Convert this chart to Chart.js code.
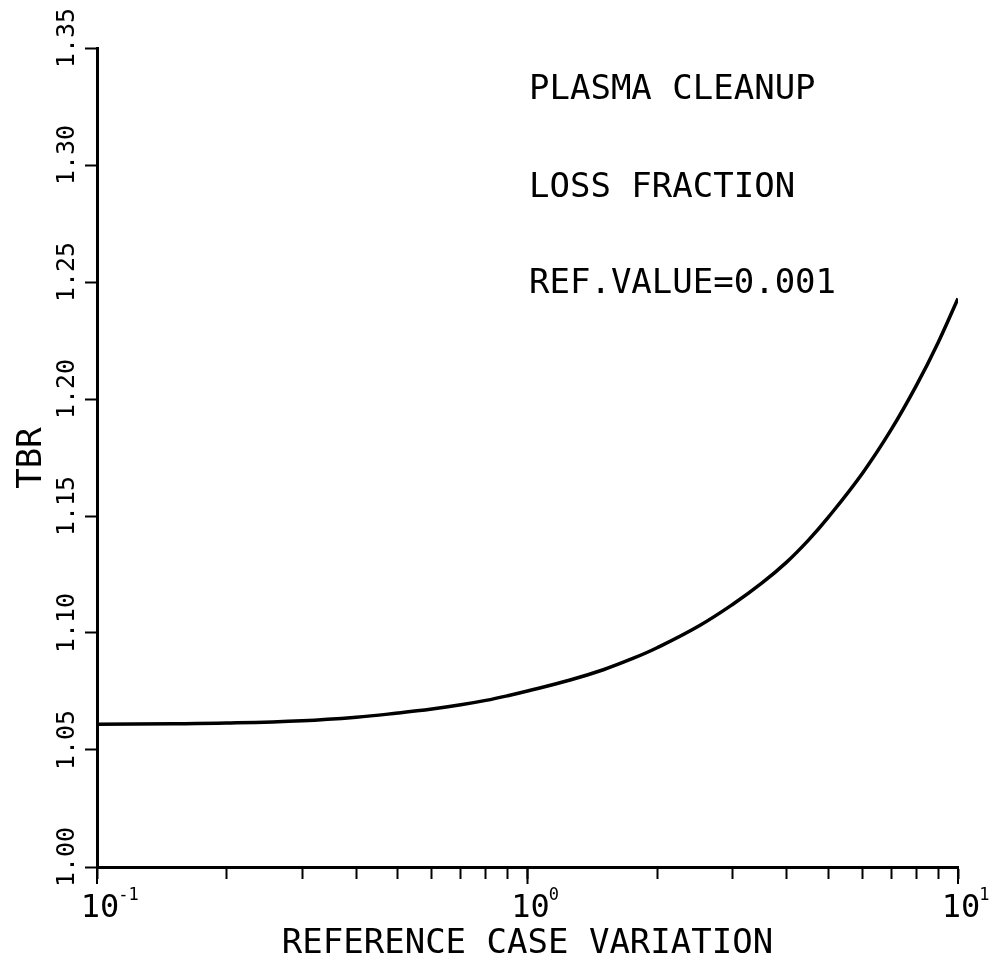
<!DOCTYPE html>
<html>
<head>
<meta charset="utf-8">
<script src="https://cdn.jsdelivr.net/npm/chart.js@4"></script>
<style>
  html, body { margin: 0; padding: 0; background: #fff; }
  #wrap { position: relative; width: 994px; height: 961px; }
</style>
</head>
<body>
<div id="wrap"><canvas id="tbr-chart"></canvas></div>
<script>
// ── Data ──────────────────────────────────────────────────────────────
var caseVariation = [0.1, 0.15, 0.2, 0.3, 0.4, 0.5, 0.6, 0.7, 0.8, 0.9, 1.0, 1.25, 1.5, 1.75, 2.0, 2.5, 3.0, 3.5, 4.0, 4.5, 5.0, 6.0, 7.0, 8.0, 9.0, 10];
var tbrValues = [1.0610, 1.0612, 1.0615, 1.0625, 1.0640, 1.0658, 1.0675, 1.0693, 1.0712, 1.0732, 1.0752, 1.0798, 1.0843, 1.0890, 1.0937, 1.1030, 1.1123, 1.1213, 1.1303, 1.1398, 1.1495, 1.1683, 1.1870, 1.2057, 1.2243, 1.2430];

var xTicks = [0.1, 0.2, 0.3, 0.4, 0.5, 0.6, 0.7, 0.8, 0.9, 1, 2, 3, 4, 5, 6, 7, 8, 9, 10];
var xMajorTicks = [0.1, 1, 10];
var xMajorExps = ['-1', '0', '1'];
var yTicks = [1.00, 1.05, 1.10, 1.15, 1.20, 1.25, 1.30, 1.35];
var yTickLabels = ['1.00', '1.05', '1.10', '1.15', '1.20', '1.25', '1.30', '1.35'];

var notes = ['PLASMA CLEANUP', 'LOSS FRACTION', 'REF.VALUE=0.001'];
var xTitle = 'REFERENCE CASE VARIATION';
var yTitle = 'TBR';

var FONT = '"DejaVu Sans Mono", monospace';

// Labels drawn by hand so they can be rotated / superscripted like the plotter output
var labelsPlugin = {
  id: 'plotterLabels',
  afterDraw: function (chart) {
    var ctx = chart.ctx;
    var xs = chart.scales.x;
    var ys = chart.scales.y;
    var area = chart.chartArea;
    ctx.save();
    ctx.fillStyle = '#000';
    ctx.strokeStyle = '#000';

    // longer tick marks at the decades
    ctx.lineWidth = 2;
    xMajorTicks.forEach(function (v) {
      var px = xs.getPixelForValue(v);
      ctx.beginPath();
      ctx.moveTo(px, area.bottom);
      ctx.lineTo(px, area.bottom + 17);
      ctx.stroke();
    });

    // x tick labels 10^n
    xMajorTicks.forEach(function (v, i) {
      var px = xs.getPixelForValue(v);
      ctx.font = '32px ' + FONT;
      ctx.textAlign = 'center';
      ctx.textBaseline = 'alphabetic';
      ctx.fillText('10', px + 3, area.bottom + 50);
      var w = ctx.measureText('10').width;
      ctx.font = '17px ' + FONT;
      ctx.textAlign = 'left';
      ctx.fillText(xMajorExps[i], px + 2 + w / 2, area.bottom + 33);
    });

    // y tick labels, rotated
    ctx.font = '25px ' + FONT;
    ctx.textAlign = 'center';
    ctx.textBaseline = 'middle';
    yTicks.forEach(function (v, i) {
      var py = ys.getPixelForValue(v);
      ctx.save();
      ctx.translate(area.left - 30, py - 10);
      ctx.rotate(-Math.PI / 2);
      ctx.fillText(yTickLabels[i], 0, 0);
      ctx.restore();
    });

    // axis titles
    ctx.font = '34px ' + FONT;
    ctx.textAlign = 'center';
    ctx.textBaseline = 'alphabetic';
    ctx.fillText(xTitle, (area.left + area.right) / 2, 953);

    ctx.save();
    ctx.translate(41, 458);
    ctx.rotate(-Math.PI / 2);
    ctx.fillText(yTitle, 0, 0);
    ctx.restore();

    // annotation block
    ctx.font = '34px ' + FONT;
    ctx.textAlign = 'left';
    var baselines = [99, 197, 293];
    notes.forEach(function (t, i) {
      ctx.fillText(t, 529, baselines[i]);
    });

    ctx.restore();
  }
};

var ctx = document.getElementById('tbr-chart').getContext('2d');

new Chart(ctx, {
  type: 'line',
  data: {
    datasets: [{
      label: 'TBR',
      data: caseVariation.map(function (x, i) { return { x: x, y: tbrValues[i] }; }),
      borderColor: '#000',
      borderWidth: 3.5,
      pointRadius: 0,
      fill: false,
      tension: 0.4
    }]
  },
  options: {
    responsive: true,
    maintainAspectRatio: false,
    animation: false,
    layout: { padding: { left: 85, right: 36, top: 48, bottom: 82 } },
    plugins: {
      legend: { display: false },
      tooltip: { enabled: false }
    },
    scales: {
      x: {
        type: 'logarithmic',
        min: 0.1,
        max: 10,
        afterBuildTicks: function (scale) {
          scale.ticks = xTicks.map(function (v) { return { value: v }; });
        },
        ticks: { display: false },
        grid: { drawOnChartArea: false, drawTicks: true, tickLength: 12, tickWidth: 2, tickColor: '#000' },
        border: { display: true, color: '#000', width: 3 }
      },
      y: {
        type: 'linear',
        min: 1.0,
        max: 1.35,
        afterBuildTicks: function (scale) {
          scale.ticks = yTicks.map(function (v) { return { value: v }; });
        },
        ticks: { display: false },
        grid: { drawOnChartArea: false, drawTicks: true, tickLength: 12, tickWidth: 2, tickColor: '#000' },
        border: { display: true, color: '#000', width: 3 }
      }
    }
  },
  plugins: [labelsPlugin]
});
</script>
</body>
</html>
